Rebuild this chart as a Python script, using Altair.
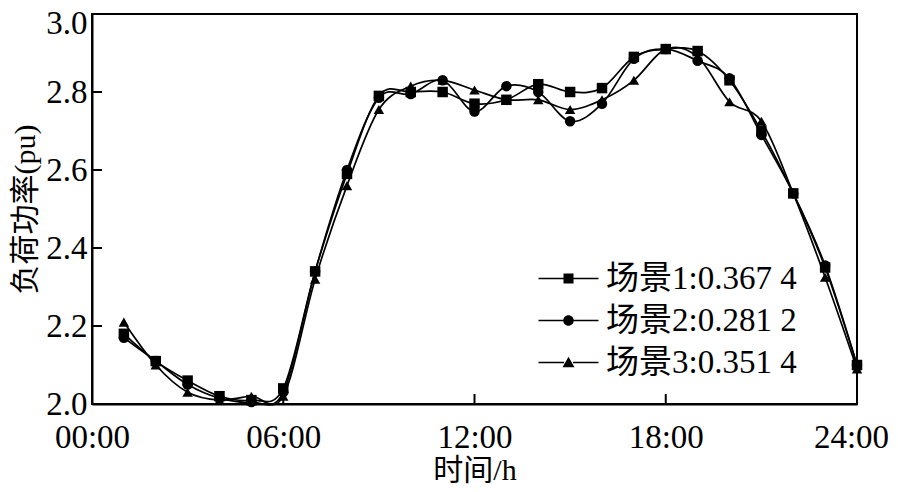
import altair as alt
import pandas as pd

hours = list(range(1, 25))
scenes = ["场景1:0.367 4", "场景2:0.281 2", "场景3:0.351 4"]
s1 = [2.18, 2.11, 2.06, 2.02, 2.01, 2.04, 2.34, 2.59, 2.79, 2.80, 2.80, 2.77,
      2.78, 2.82, 2.80, 2.81, 2.89, 2.91, 2.905, 2.83, 2.70, 2.54, 2.35, 2.10]
s2 = [2.17, 2.11, 2.05, 2.015, 2.005, 2.03, 2.34, 2.60, 2.785, 2.795, 2.83, 2.75,
      2.815, 2.80, 2.725, 2.77, 2.885, 2.91, 2.88, 2.835, 2.69, 2.54, 2.355, 2.10]
s3 = [2.21, 2.10, 2.03, 2.01, 2.02, 2.02, 2.32, 2.56, 2.755, 2.815, 2.83, 2.805,
      2.78, 2.78, 2.755, 2.78, 2.83, 2.91, 2.89, 2.775, 2.725, 2.54, 2.325, 2.09]
x_ticks = [0, 6, 12, 18, 24]
y_ticks = [2.0, 2.2, 2.4, 2.6, 2.8, 3.0]
inner_x_ticks = [6, 12, 18]
inner_y_ticks = [2.2, 2.4, 2.6, 2.8]

rows = []
for name, vals in zip(scenes, [s1, s2, s3]):
    for h, v in zip(hours, vals):
        rows.append({"hour": h, "value": v, "scene": name})
df = pd.DataFrame(rows)

W, H = 765, 390
SERIF = "Liberation Serif"
MIXED = "Liberation Serif, Noto Sans CJK SC"

xs = alt.Scale(domain=[0, 24], nice=False, zero=False)
ys = alt.Scale(domain=[2.0, 3.0], nice=False, zero=False)

x_enc = alt.X("hour:Q", scale=xs, title="时间/h",
              axis=alt.Axis(values=x_ticks, grid=False, ticks=False,
                            labelExpr="(datum.value < 10 ? '0' : '') + datum.value + ':00'",
                            labelFont=SERIF, labelFontSize=33, labelColor="black",
                            labelPadding=17, labelFlush=False,
                            labelOffset={"condition": {"test": "datum.value > 23", "value": -6}, "value": 0},
                            titleFont=MIXED, titleFontSize=30, titleFontWeight="normal",
                            titleColor="black", titlePadding=1,
                            domainColor="black", domainWidth=2))
y_enc = alt.Y("value:Q", scale=ys, title="负荷功率(pu)",
              axis=alt.Axis(values=y_ticks, format=".1f", grid=False, ticks=False,
                            labelFont=SERIF, labelFontSize=33, labelColor="black",
                            labelPadding=5, labelFlush=False,
                            labelOffset={"condition": {"test": "datum.value > 2.99", "value": 9}, "value": 0},
                            titleFont=MIXED, titleFontSize=30, titleFontWeight="normal",
                            titleColor="black", titlePadding=5,
                            domainColor="black", domainWidth=2))

lines = alt.Chart(df).mark_line(interpolate="cardinal", color="black", strokeWidth=1.7).encode(
    x=x_enc, y=y_enc, detail="scene:N")

points = alt.Chart(df).mark_point(filled=True, color="black", size=110, opacity=1).encode(
    x="hour:Q", y="value:Q",
    shape=alt.Shape("scene:N", scale=alt.Scale(domain=scenes, range=["square", "circle", "triangle-up"]),
                    legend=None))

SEG = "M-6,-0.16H-0.9V0.16H-6Z M0.9,-0.16H6V0.16H0.9Z "
leg_paths = [
    SEG + "M-1,-1H1V1H-1Z",
    SEG + "M1.05,0A1.05,1.05,0,1,1,-1.05,0A1.05,1.05,0,1,1,1.05,0Z",
    SEG + "M0,-1.15L1.2,0.95H-1.2Z",
]
legend_layer = alt.Chart(df).mark_point(filled=True, color="black", size=100, opacity=0).encode(
    x="hour:Q", y="value:Q",
    shape=alt.Shape("scene:N", scale=alt.Scale(domain=scenes, range=leg_paths),
                    legend=alt.Legend(title=None, orient="none", legendX=460, legendY=248,
                                      labelFont=MIXED, labelFontSize=33, labelColor="black",
                                      labelOffset=21, labelLimit=500, symbolSize=100, symbolOpacity=1,
                                      symbolFillColor="black", symbolStrokeColor="black",
                                      symbolStrokeWidth=1.5, rowPadding=8, padding=0)))

yt = pd.DataFrame({"v": inner_y_ticks})
ytick_layer = alt.Chart(yt).mark_rule(color="black", strokeWidth=2).encode(
    y=alt.Y("v:Q", scale=ys), x=alt.value(0), x2=alt.value(10))
xt = pd.DataFrame({"h": inner_x_ticks})
xtick_layer = alt.Chart(xt).mark_rule(color="black", strokeWidth=2).encode(
    x=alt.X("h:Q", scale=xs), y=alt.value(H), y2=alt.value(H - 10))

chart = alt.layer(lines, points, legend_layer, ytick_layer, xtick_layer).resolve_scale(
    shape="independent"
).properties(
    width=W, height=H,
    autosize=alt.AutoSizeParams(type="none"),
    padding={"left": 84, "top": 6, "right": 33, "bottom": 80},
    background="white",
).configure_view(stroke="black", strokeWidth=2)

chart.save("out.html", embed_options={"renderer": "svg", "actions": False})
